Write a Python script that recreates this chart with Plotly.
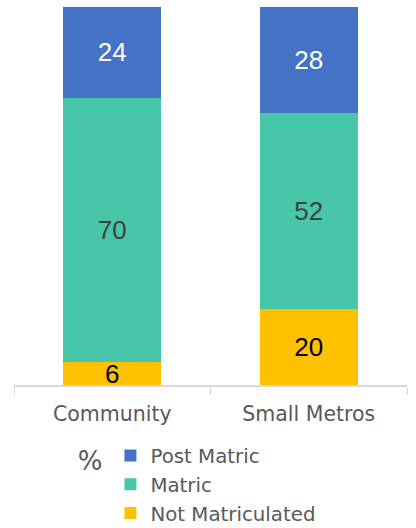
import plotly.graph_objects as go

categories = ["Community", "Small Metros"]
not_matriculated = [6, 20]
matric = [70, 52]
post_matric = [24, 28]

FONT = "DejaVu Sans, sans-serif"
NUM_FONT = "Liberation Sans, Arial, sans-serif"

fig = go.Figure()
fig.add_trace(go.Bar(x=categories, y=not_matriculated, name="Not Matriculated",
                     marker=dict(color="#FFC000", line=dict(width=0)),
                     text=not_matriculated, textposition="inside", insidetextanchor="middle",
                     textangle=0,
                     textfont=dict(color="#000000", size=26, family=NUM_FONT), constraintext="none"))
fig.add_trace(go.Bar(x=categories, y=matric, name="Matric",
                     marker=dict(color="#47C6A9", line=dict(width=0)),
                     text=matric, textposition="inside", insidetextanchor="middle",
                     textangle=0,
                     textfont=dict(color="#404040", size=26, family=NUM_FONT), constraintext="none"))
fig.add_trace(go.Bar(x=categories, y=post_matric, name="Post Matric",
                     marker=dict(color="#4472C4", line=dict(width=0)),
                     text=post_matric, textposition="inside", insidetextanchor="middle",
                     textangle=0,
                     textfont=dict(color="#FFFFFF", size=26, family=NUM_FONT), constraintext="none"))

fig.update_layout(
    barmode="stack",
    bargap=0.5,
    width=416, height=528,
    margin=dict(l=14, r=9, t=7, b=143, autoexpand=False),
    paper_bgcolor="white", plot_bgcolor="white",
    font=dict(family=FONT, color="#595959", size=18),
    showlegend=True,
    legend=dict(
        orientation="v", x=0.157, y=-0.135, xanchor="left", yanchor="top",
        title=dict(text="%", side="left", font=dict(size=26)),
        font=dict(size=19.8, color="#595959"),
        itemwidth=30, tracegroupgap=0,
    ),
    xaxis=dict(showline=True, linecolor="#D9D9D9", linewidth=1.5,
               ticks="outside", tickson="boundaries", ticklen=8, tickcolor="#D9D9D9",
               ticklabelstandoff=10,
               tickfont=dict(size=20.5, color="#595959"), showgrid=False),
    yaxis=dict(visible=False, range=[0, 100]),
)

fig.write_html("out.html", config={"displayModeBar": False},
               post_script="document.body.style.margin='0px';")
